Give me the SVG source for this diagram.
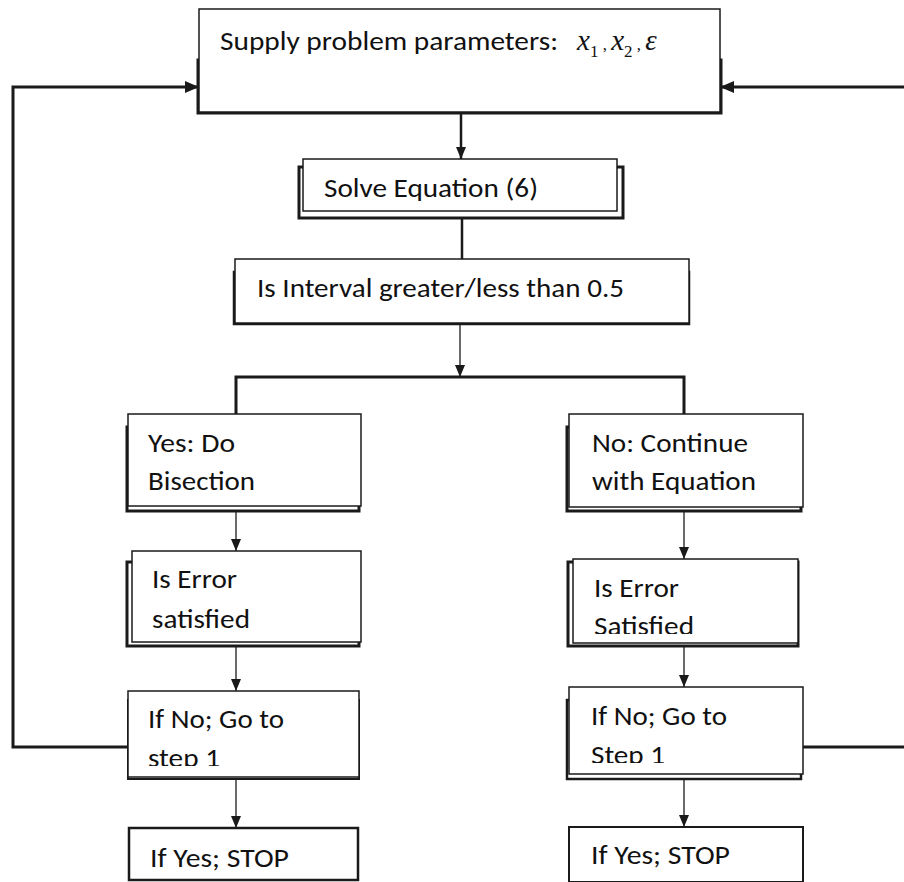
<svg xmlns="http://www.w3.org/2000/svg" width="904" height="882" viewBox="0 0 904 882">
<style>
.main{fill:#fff;stroke:#1a1a1a;stroke-width:1.5}
.shadow{fill:#fff;stroke:#1a1a1a;stroke-width:3}
.t{font-family:Carlito,Lato,"Open Sans",sans-serif;font-size:27px;fill:#111}
.m{font-family:"Liberation Serif","Times New Roman",serif;font-style:italic;font-size:29px;fill:#111}
.ms{font-family:"Liberation Serif","Times New Roman",serif;font-size:17px;fill:#111}
.thick{fill:none;stroke:#1a1a1a;stroke-width:3}
.med{fill:none;stroke:#1a1a1a;stroke-width:2.5}
.thin{fill:none;stroke:#3a3a3a;stroke-width:1.5}
</style>
<defs>
<marker id="ah" viewBox="0 0 12 10" refX="12" refY="5" markerWidth="12" markerHeight="10" markerUnits="userSpaceOnUse" orient="auto">
<path d="M0,0 L12,5 L0,10 Z" fill="#1a1a1a"/>
</marker>
<marker id="ahb" viewBox="0 0 14 12" refX="14" refY="6" markerWidth="14" markerHeight="12" markerUnits="userSpaceOnUse" orient="auto">
<path d="M0,0 L14,6 L0,12 Z" fill="#1a1a1a"/>
</marker>
<clipPath id="cLN"><rect x="128" y="691" width="231" height="75"/></clipPath>
<clipPath id="cRE"><rect x="573" y="559" width="225" height="75"/></clipPath>
<clipPath id="cRN"><rect x="569" y="687" width="234" height="76"/></clipPath>
</defs>

<g id="connectors">
<line class="med" x1="461" y1="112" x2="461" y2="159" marker-end="url(#ah)"/>
<line class="med" x1="462" y1="218" x2="462" y2="259"/>
<line class="thin" x1="460" y1="323" x2="460" y2="377" marker-end="url(#ah)"/>
<path class="thick" d="M236,416 V377 H684 V414"/>
<line class="thin" x1="236" y1="512" x2="236" y2="551" marker-end="url(#ah)"/>
<line class="thin" x1="236" y1="647" x2="236" y2="691" marker-end="url(#ah)"/>
<line class="thin" x1="236" y1="780" x2="236" y2="828" marker-end="url(#ah)"/>
<line class="thin" x1="684" y1="512" x2="684" y2="559" marker-end="url(#ah)"/>
<line class="thin" x1="684" y1="647" x2="684" y2="687" marker-end="url(#ah)"/>
<line class="thin" x1="684" y1="780" x2="684" y2="827" marker-end="url(#ah)"/>
<path class="thick" d="M128,747 H13 V87 H199" marker-end="url(#ahb)"/>
<path class="thick" d="M803,747 H908 V87 H720" marker-end="url(#ahb)"/>
</g>

<g id="n-supply">
<rect class="shadow" x="198" y="60" width="523" height="53"/>
<rect class="main" x="199" y="9" width="521" height="103"/>
<text class="t" x="220" y="50" textLength="338" lengthAdjust="spacingAndGlyphs">Supply problem parameters:</text>
<text x="577" y="50"><tspan class="m">x</tspan><tspan class="ms" dy="7">1</tspan><tspan class="ms" dy="-7"> , </tspan><tspan class="m">x</tspan><tspan class="ms" dy="7">2</tspan><tspan class="ms" dy="-7"> , </tspan><tspan class="m">ε</tspan></text>
</g>

<g id="n-solve">
<rect class="shadow" x="299" y="167" width="324" height="51"/>
<rect class="main" x="303" y="159" width="314" height="52"/>
<text class="t" x="324" y="197" textLength="214" lengthAdjust="spacingAndGlyphs">Solve Equation (6)</text>
</g>

<g id="n-interval">
<rect class="main" x="234" y="272" width="455" height="52" style="stroke-width:2.5"/>
<rect class="main" x="235" y="259" width="454" height="64"/>
<text class="t" x="257" y="297" textLength="367" lengthAdjust="spacingAndGlyphs">Is Interval greater/less than 0.5</text>
</g>

<g id="n-yes">
<rect class="shadow" x="127" y="427" width="232" height="84"/>
<rect class="main" x="128" y="414" width="233" height="92"/>
<text class="t" x="148" y="452" textLength="87" lengthAdjust="spacingAndGlyphs">Yes: Do</text>
<text class="t" x="148" y="490" textLength="107" lengthAdjust="spacingAndGlyphs">Bisection</text>
</g>

<g id="n-err-left">
<rect class="shadow" x="127" y="562" width="232" height="84"/>
<rect class="main" x="132" y="551" width="229" height="91"/>
<text class="t" x="152" y="588" textLength="85" lengthAdjust="spacingAndGlyphs">Is Error</text>
<text class="t" x="152" y="628" textLength="98" lengthAdjust="spacingAndGlyphs">satisfied</text>
</g>

<g id="n-ifno-left">
<rect class="shadow" x="128" y="700" width="231" height="79" style="stroke-width:2"/>
<rect class="main" x="128" y="691" width="231" height="86"/>
<text class="t" x="148" y="728" textLength="136" lengthAdjust="spacingAndGlyphs">If No; Go to</text>
<text class="t" x="148" y="767" textLength="72" lengthAdjust="spacingAndGlyphs" clip-path="url(#cLN)">step 1</text>
</g>

<g id="n-ifyes-left">
<rect class="main" x="129" y="828" width="229" height="52" style="stroke-width:2.5"/>
<text class="t" x="150" y="867" textLength="139" lengthAdjust="spacingAndGlyphs">If Yes; STOP</text>
</g>

<g id="n-no">
<rect class="shadow" x="567" y="427" width="234" height="84"/>
<rect class="main" x="569" y="414" width="234" height="93"/>
<text class="t" x="592" y="452" textLength="156" lengthAdjust="spacingAndGlyphs">No: Continue</text>
<text class="t" x="592" y="490" textLength="164" lengthAdjust="spacingAndGlyphs">with Equation</text>
</g>

<g id="n-err-right">
<rect class="shadow" x="568" y="562" width="230" height="84"/>
<rect class="main" x="573" y="559" width="225" height="84"/>
<text class="t" x="594" y="597" textLength="85" lengthAdjust="spacingAndGlyphs">Is Error</text>
<text class="t" x="594" y="635" textLength="100" lengthAdjust="spacingAndGlyphs" clip-path="url(#cRE)">Satisfied</text>
</g>

<g id="n-ifno-right">
<rect class="shadow" x="567" y="700" width="234" height="79" style="stroke-width:2.5"/>
<rect class="main" x="569" y="687" width="234" height="87"/>
<text class="t" x="591" y="725" textLength="136" lengthAdjust="spacingAndGlyphs">If No; Go to</text>
<text class="t" x="591" y="764" textLength="74" lengthAdjust="spacingAndGlyphs" clip-path="url(#cRN)">Step 1</text>
</g>

<g id="n-ifyes-right">
<rect class="main" x="569" y="827" width="234" height="55" style="stroke-width:2"/>
<text class="t" x="591" y="864" textLength="139" lengthAdjust="spacingAndGlyphs">If Yes; STOP</text>
</g>
</svg>
